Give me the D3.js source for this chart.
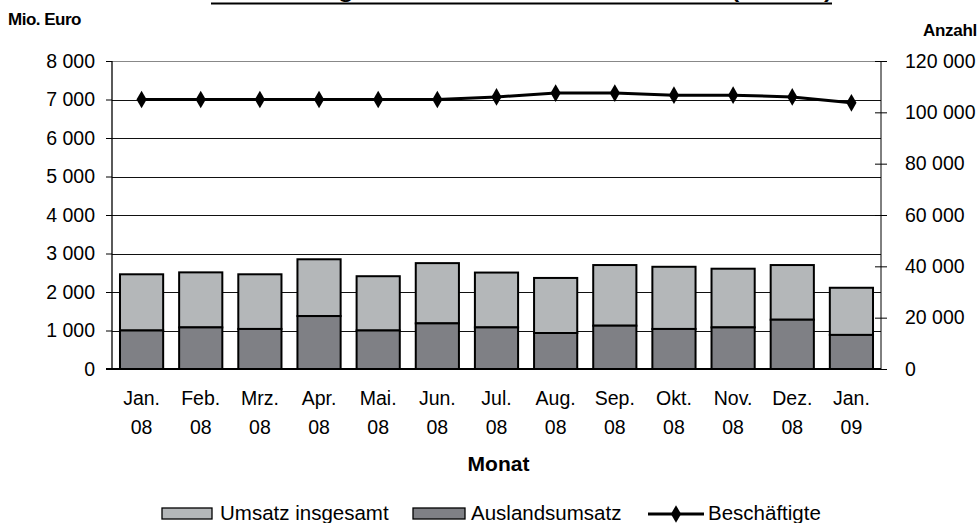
<!DOCTYPE html>
<html>
<head>
<meta charset="utf-8">
<script src="https://cdn.jsdelivr.net/npm/d3@7"></script>
<style>
  body { margin: 0; background: #fff; }
  svg { font-family: "Liberation Sans", Arial, sans-serif; }
</style>
</head>
<body>
<div class="chart"></div>
<script>
var svgWidth = 979;
var svgHeight = 523;

// data
var months = ["Jan. 08", "Feb. 08", "Mrz. 08", "Apr. 08", "Mai. 08", "Jun. 08", "Jul. 08",
  "Aug. 08", "Sep. 08", "Okt. 08", "Nov. 08", "Dez. 08", "Jan. 09"];
var umsatzTotal = [2460, 2510, 2460, 2850, 2410, 2750, 2505, 2365, 2700, 2655, 2605, 2700, 2110];
var auslandsumsatz = [1000, 1080, 1040, 1375, 1000, 1185, 1080, 935, 1125, 1040, 1080, 1280, 885];
var beschaeftigte = [105000, 105000, 105000, 105000, 105000, 105000, 106000, 107500, 107500,
  106700, 106700, 106000, 103700];
var leftTicks = [0, 1000, 2000, 3000, 4000, 5000, 6000, 7000, 8000];
var rightTicks = [0, 20000, 40000, 60000, 80000, 100000, 120000];

var plot = { left: 112, right: 881, top: 61, bottom: 369 };

var fmt = function(v) {
  return d3.format(",")(v).replace(/,/g, " ");
};

var svg = d3.select(".chart")
  .append("svg")
  .attr("width", svgWidth)
  .attr("height", svgHeight);

var data = months.map(function(m, i) {
  return { month: m, total: umsatzTotal[i], foreign: auslandsumsatz[i], staff: beschaeftigte[i] };
});

var x = d3.scaleBand()
  .domain(months)
  .range([plot.left, plot.right])
  .paddingInner(0.27)
  .paddingOuter(0.135);

var yLeft = d3.scaleLinear().domain([0, 8000]).range([plot.bottom, plot.top]);
var yRight = d3.scaleLinear().domain([0, 120000]).range([plot.bottom, plot.top]);

// title (cut off at the top of the picture)
svg.append("text")
  .attr("x", 211)
  .attr("y", -2)
  .attr("textLength", 621)
  .attr("lengthAdjust", "spacingAndGlyphs")
  .attr("font-size", 20)
  .attr("font-weight", "bold")
  .text("Entwicklung von Umsatz und Arbeitnehmern (Monate)");
svg.append("line")
  .attr("x1", 211).attr("x2", 832)
  .attr("y1", 3.5).attr("y2", 3.5)
  .attr("stroke", "#000")
  .attr("stroke-width", 2);

// gridlines
svg.append("g")
  .selectAll("line")
  .data(leftTicks.slice(1, -1))
  .enter()
  .append("line")
  .attr("x1", plot.left).attr("x2", plot.right)
  .attr("y1", d => Math.round(yLeft(d)) + 0.5)
  .attr("y2", d => Math.round(yLeft(d)) + 0.5)
  .attr("stroke", "#111")
  .attr("stroke-width", 1);

svg.append("line")
  .attr("x1", plot.left).attr("x2", plot.right)
  .attr("y1", Math.round(yLeft(8000)) + 0.5)
  .attr("y2", Math.round(yLeft(8000)) + 0.5)
  .attr("stroke", "#888");

// bars: foreign part at the bottom, the rest of the total on top
var bars = svg.append("g");
bars.selectAll("rect.total")
  .data(data)
  .enter()
  .append("rect")
  .attr("class", "total")
  .attr("x", d => x(d.month))
  .attr("width", x.bandwidth())
  .attr("y", d => yLeft(d.total))
  .attr("height", d => yLeft(d.foreign) - yLeft(d.total))
  .attr("fill", "#b4b7b9")
  .attr("stroke", "#000")
  .attr("stroke-width", 2);

bars.selectAll("rect.foreign")
  .data(data)
  .enter()
  .append("rect")
  .attr("class", "foreign")
  .attr("x", d => x(d.month))
  .attr("width", x.bandwidth())
  .attr("y", d => yLeft(d.foreign))
  .attr("height", d => yLeft(0) - yLeft(d.foreign))
  .attr("fill", "#7f8085")
  .attr("stroke", "#000")
  .attr("stroke-width", 2);

// left axis
var leftAxis = svg.append("g")
  .attr("transform", `translate(${plot.left}, 0)`)
  .call(d3.axisLeft(yLeft).tickValues(leftTicks).tickFormat(fmt).tickSize(6).tickPadding(11));
leftAxis.selectAll("text").attr("font-size", 19.5).attr("fill", "#000").attr("font-family", "Liberation Sans, Arial");
leftAxis.select(".domain").attr("stroke", "#000").attr("stroke-width", 1.3).attr("d", `M0,${plot.top}V${plot.bottom}`);

// right axis, ticks cross the axis line
var rightAxis = svg.append("g")
  .attr("transform", `translate(${plot.right}, 0)`)
  .call(d3.axisRight(yRight).tickValues(rightTicks).tickFormat(fmt).tickSize(6).tickPadding(18));
rightAxis.selectAll(".tick line").attr("x1", -6).attr("x2", 6).attr("stroke", "#000");
rightAxis.selectAll("text").attr("font-size", 19.5).attr("fill", "#000").attr("font-family", "Liberation Sans, Arial");
rightAxis.select(".domain").attr("stroke", "#000").attr("stroke-width", 1).attr("d", `M0,${plot.top}V${plot.bottom}`);

// baseline
svg.append("line")
  .attr("x1", plot.left - 6).attr("x2", plot.right)
  .attr("y1", yLeft(0)).attr("y2", yLeft(0))
  .attr("stroke", "#000").attr("stroke-width", 2);

// employees line
var line = d3.line()
  .x(d => x(d.month) + x.bandwidth() / 2)
  .y(d => yRight(d.staff));

svg.append("path")
  .datum(data)
  .attr("d", line)
  .attr("fill", "none")
  .attr("stroke", "#000")
  .attr("stroke-width", 3);

var diamond = d3.symbol().type(d3.symbolDiamond).size(90);
svg.append("g")
  .selectAll("path")
  .data(data)
  .enter()
  .append("path")
  .attr("d", diamond)
  .attr("transform", d => `translate(${x(d.month) + x.bandwidth() / 2}, ${yRight(d.staff)})`)
  .attr("fill", "#000");

// month labels on two lines
var xLabels = svg.append("g")
  .selectAll("text")
  .data(months)
  .enter()
  .append("text")
  .attr("text-anchor", "middle")
  .attr("font-size", 19.5)
  .attr("x", d => x(d) + x.bandwidth() / 2);
xLabels.append("tspan")
  .attr("y", 405)
  .text(d => d.split(" ")[0]);
xLabels.append("tspan")
  .attr("x", d => x(d) + x.bandwidth() / 2)
  .attr("y", 434)
  .text(d => d.split(" ")[1]);

// axis titles
svg.append("text")
  .attr("x", (plot.left + plot.right) / 2 + 2)
  .attr("y", 471)
  .attr("text-anchor", "middle")
  .attr("font-size", 21)
  .attr("font-weight", "bold")
  .text("Monat");

svg.append("text")
  .attr("x", 8)
  .attr("y", 25)
  .attr("font-size", 17)
  .attr("font-weight", "bold")
  .attr("letter-spacing", -0.5)
  .text("Mio. Euro");

svg.append("text")
  .attr("x", 977)
  .attr("y", 36)
  .attr("text-anchor", "end")
  .attr("font-size", 17)
  .attr("font-weight", "bold")
  .attr("letter-spacing", -0.3)
  .text("Anzahl");

// legend
var legend = svg.append("g");
legend.append("rect")
  .attr("x", 162).attr("y", 508).attr("width", 50).attr("height", 11)
  .attr("fill", "#b4b7b9").attr("stroke", "#000").attr("stroke-width", 1.3);
legend.append("text")
  .attr("x", 220).attr("y", 520).attr("font-size", 20.5)
  .text("Umsatz insgesamt");

legend.append("rect")
  .attr("x", 413).attr("y", 508).attr("width", 52).attr("height", 11)
  .attr("fill", "#7f8085").attr("stroke", "#000").attr("stroke-width", 1.3);
legend.append("text")
  .attr("x", 471).attr("y", 520).attr("font-size", 20.5)
  .text("Auslandsumsatz");

legend.append("line")
  .attr("x1", 648).attr("x2", 704).attr("y1", 514).attr("y2", 514)
  .attr("stroke", "#000").attr("stroke-width", 3);
legend.append("path")
  .attr("d", diamond)
  .attr("transform", "translate(676, 514)")
  .attr("fill", "#000");
legend.append("text")
  .attr("x", 708).attr("y", 520).attr("font-size", 20.5)
  .text("Beschäftigte");
</script>
</body>
</html>
